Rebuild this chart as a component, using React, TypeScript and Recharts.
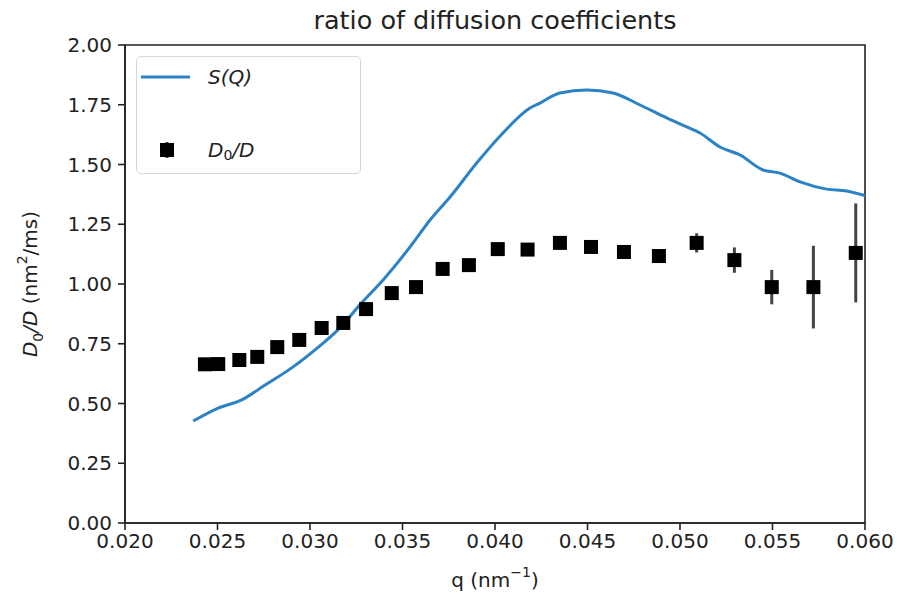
import React from "react"
import {
  ComposedChart,
  Line,
  Scatter,
  ErrorBar,
  XAxis,
  YAxis,
  ReferenceArea,
} from "recharts"

// S(Q) curve
const curveQ = [
  0.02369, 0.02504, 0.02631, 0.02757, 0.02901, 0.03045, 0.03151, 0.03279, 0.03395, 0.03541,
  0.03649, 0.03757, 0.03901, 0.04043, 0.04189, 0.04243, 0.04351, 0.04496, 0.04638, 0.04784,
  0.04928, 0.05036, 0.05108, 0.05216, 0.05324, 0.05449, 0.0554, 0.05649, 0.05793, 0.05901,
  0.06,
]
const curveS = [
  0.427, 0.481, 0.515, 0.577, 0.649, 0.736, 0.808, 0.921, 1.017, 1.155,
  1.268, 1.364, 1.506, 1.632, 1.736, 1.757, 1.799, 1.812, 1.799, 1.749,
  1.695, 1.657, 1.632, 1.573, 1.54, 1.477, 1.464, 1.427, 1.397, 1.389,
  1.37,
]

// D0/D measurements with error
const pointQ = [
  0.02432, 0.02504, 0.02618, 0.02715, 0.02823, 0.02942, 0.03063, 0.0318, 0.03303, 0.03442,
  0.03573, 0.03717, 0.03859, 0.04015, 0.04176, 0.04351, 0.04519, 0.04697, 0.04886, 0.0509,
  0.05294, 0.05496, 0.05721, 0.0595,
]
const pointD = [
  0.664, 0.665, 0.682, 0.695, 0.736, 0.766, 0.816, 0.837, 0.895, 0.962,
  0.987, 1.063, 1.079, 1.146, 1.144, 1.172, 1.155, 1.134, 1.117, 1.172,
  1.1, 0.987, 0.987, 1.13,
]
const pointErr = [
  0.01, 0.01, 0.01, 0.01, 0.01, 0.01, 0.01, 0.01, 0.01, 0.01,
  0.01, 0.01, 0.01, 0.01, 0.01, 0.012, 0.012, 0.012, 0.012, 0.04,
  0.053, 0.072, 0.173, 0.207,
]

const xTicks = [0.02, 0.025, 0.03, 0.035, 0.04, 0.045, 0.05, 0.055, 0.06]
const yTicks = [0, 0.25, 0.5, 0.75, 1, 1.25, 1.5, 1.75, 2]

const curve = curveQ.map((q, i) => ({ q, y: curveS[i] }))
const points = pointQ.map((q, i) => ({ q, y: pointD[i], err: pointErr[i] }))

const FONT = "'DejaVu Sans', sans-serif"
const BLUE = "#2b83c6"

const Square = (props: any) => {
  const { cx, cy } = props
  if (cx == null || cy == null) return null
  return <rect x={cx - 7} y={cy - 7} width={14} height={14} fill="#000" />
}

const YLabel = (props: any) => {
  const vb = props.viewBox || { x: 0, y: 45, width: 125, height: 478 }
  const x = vb.x + 30
  const y = vb.y + vb.height / 2
  return (
    <text
      x={x}
      y={y}
      transform={`rotate(-90, ${x}, ${y})`}
      textAnchor="middle"
      dominantBaseline="central"
      fontFamily={FONT}
      fontSize={20}
      fill="#222"
    >
      <tspan fontStyle="italic">D</tspan>
      <tspan fontSize={14} baselineShift="sub">0</tspan>
      <tspan fontStyle="italic">/D</tspan>
      <tspan> (nm</tspan>
      <tspan fontSize={14} baselineShift="super">2</tspan>
      <tspan>/ms)</tspan>
    </text>
  )
}

const XLabel = (props: any) => {
  const vb = props.viewBox || { x: 125, y: 523, width: 740, height: 75 }
  return (
    <text
      x={vb.x + vb.width / 2}
      y={vb.y + 57}
      textAnchor="middle"
      dominantBaseline="central"
      fontFamily={FONT}
      fontSize={20}
      fill="#222"
    >
      <tspan>q (nm</tspan>
      <tspan fontSize={14} baselineShift="super">−1</tspan>
      <tspan>)</tspan>
    </text>
  )
}

const LegendBox = () => (
  <div
    style={{
      position: "absolute",
      left: 136,
      top: 56,
      width: 225,
      height: 118,
      border: "1.5px solid #d8d8d8",
      borderRadius: 5,
      background: "rgba(255,255,255,0.8)",
      boxSizing: "border-box",
      fontFamily: FONT,
      fontSize: 20,
      color: "#222",
      fontStyle: "italic",
    }}
  >
    <svg width={60} height={118} style={{ position: "absolute", left: 0, top: 0 }}>
      <line x1={4} y1={20} x2={53} y2={20} stroke={BLUE} strokeWidth={3} />
      <line x1={30} y1={85} x2={30} y2={101} stroke="#444" strokeWidth={3} />
      <rect x={23} y={86} width={14} height={14} fill="#000" />
    </svg>
    <div style={{ position: "absolute", left: 71, top: 5, lineHeight: "30px" }}>
      S(Q)
    </div>
    <div style={{ position: "absolute", left: 71, top: 78, lineHeight: "30px" }}>
      D<span style={{ fontSize: 14, fontStyle: "normal", verticalAlign: "-3px" }}>0</span>/D
    </div>
  </div>
)

export default function App() {
  return (
    <div style={{ position: "absolute", left: 0, top: 0, width: 908, height: 598, background: "#fff" }}>
      <div
        style={{
          position: "absolute",
          left: 125,
          width: 740,
          top: 4,
          textAlign: "center",
          fontFamily: FONT,
          fontSize: 25.5,
          lineHeight: "32px",
          color: "#222",
        }}
      >
        ratio of diffusion coefficients
      </div>
      <ComposedChart
        width={908}
        height={598}
        margin={{ top: 45, right: 43, bottom: 0, left: 0 }}
      >
        <XAxis
          type="number"
          dataKey="q"
          domain={[0.02, 0.06]}
          ticks={xTicks}
          tickFormatter={(v: number) => v.toFixed(3)}
          allowDataOverflow
          height={75}
          tickSize={7}
          tickMargin={4}
          axisLine={{ stroke: "#222", strokeWidth: 1.6 }}
          tickLine={{ stroke: "#222", strokeWidth: 1.6 }}
          tick={{ fill: "#222", fontSize: 20, fontFamily: FONT }}
          label={<XLabel />}
        />
        <YAxis
          type="number"
          dataKey="y"
          domain={[0, 2]}
          ticks={yTicks}
          tickFormatter={(v: number) => v.toFixed(2)}
          allowDataOverflow
          width={125}
          tickSize={7}
          tickMargin={6}
          axisLine={{ stroke: "#222", strokeWidth: 1.6 }}
          tickLine={{ stroke: "#222", strokeWidth: 1.6 }}
          tick={{ fill: "#222", fontSize: 20, fontFamily: FONT }}
          label={<YLabel />}
        />
        <ReferenceArea
          x1={0.02}
          x2={0.06}
          y1={0}
          y2={2}
          fill="none"
          stroke="#222"
          strokeWidth={1.6}
          ifOverflow="visible"
        />
        <Line
          data={curve}
          dataKey="y"
          type="monotone"
          stroke={BLUE}
          strokeWidth={3}
          dot={false}
          activeDot={false}
          isAnimationActive={false}
          name="S(Q)"
        />
        <Scatter
          data={points}
          dataKey="y"
          shape={<Square />}
          fill="#000"
          isAnimationActive={false}
          name="D0/D"
        >
          <ErrorBar dataKey="err" direction="y" width={0} stroke="#444" strokeWidth={3} isAnimationActive={false} />
        </Scatter>
      </ComposedChart>
      <LegendBox />
    </div>
  )
}
